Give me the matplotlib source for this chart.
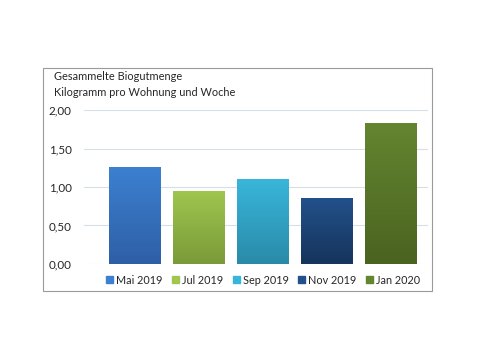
import numpy as np
import matplotlib.pyplot as plt
from matplotlib.patches import Rectangle
from matplotlib.colors import LinearSegmentedColormap

# Daten
monate = ['Mai 2019', 'Jul 2019', 'Sep 2019', 'Nov 2019', 'Jan 2020']
werte = [1.26, 0.95, 1.10, 0.86, 1.83]
farben_oben = ['#3c80d0', '#9fc64f', '#38b6da', '#22518a', '#648530']
farben_unten = ['#2e5fa6', '#7a9a38', '#2a8aa8', '#16345c', '#4a6320']
y_ticks = [0.0, 0.5, 1.0, 1.5, 2.0]

plt.rcParams['font.family'] = ['Lato', 'DejaVu Sans']

fig = plt.figure(figsize=(4.8, 3.6), dpi=100)
fig.patch.set_facecolor('white')

# Rahmen um das Diagramm
fig.add_artist(Rectangle((43 / 480, 1 - 291 / 360), 389 / 480, 223 / 360,
                         transform=fig.transFigure, fill=False,
                         edgecolor='#9a9a9a', linewidth=0.8))

ax = fig.add_axes([0.175, 0.267, 0.717, 0.427])

x = np.arange(len(monate))
breite = 0.8
bars = ax.bar(x, werte, width=breite, color=farben_oben, zorder=2)

# Farbverlauf in den Balken
for b, c1, c2 in zip(bars, farben_oben, farben_unten):
    cmap = LinearSegmentedColormap.from_list('g', [c2, c1])
    grad = np.linspace(0, 1, 100).reshape(-1, 1)
    x0, y0 = b.get_x(), b.get_y()
    im = ax.imshow(grad, cmap=cmap, aspect='auto', origin='lower',
                   extent=[x0, x0 + b.get_width(), y0, y0 + b.get_height()],
                   zorder=3)
    im.set_clip_path(b)

ax.set_xlim(-0.79, 4.59)
ax.set_ylim(0, 2.0)

ax.set_yticks(y_ticks)
ax.set_yticklabels([f'{v:.2f}'.replace('.', ',') for v in y_ticks],
                   fontsize=8.4, color='#262626')
ax.tick_params(axis='y', length=0, pad=9)
ax.set_xticks([])
ax.grid(axis='y', color='#d6dfe8', linewidth=0.8, zorder=0)
for s in ax.spines.values():
    s.set_visible(False)

fig.text(54 / 480, 1 - 76 / 360, 'Gesammelte Biogutmenge', fontsize=7.9,
         color='#262626', va='center', ha='left')
fig.text(54 / 480, 1 - 93 / 360, 'Kilogramm pro Wohnung und Woche', fontsize=7.9,
         color='#262626', va='center', ha='left')

handles = [Rectangle((0, 0), 1, 1, color=c) for c in farben_oben]
fig.legend(handles, monate, loc='center', bbox_to_anchor=(0.548, 1 - 280 / 360),
           ncol=5, frameon=False, fontsize=7.8, handlelength=0.65,
           handleheight=0.65, handletextpad=0.3, columnspacing=0.85,
           labelcolor='#262626')

fig.savefig('out.png', dpi=100)
